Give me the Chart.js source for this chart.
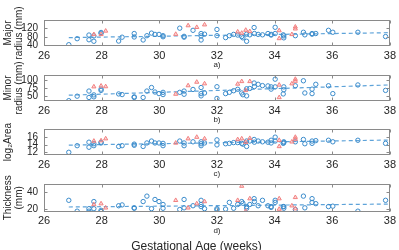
<!DOCTYPE html>
<html><head><meta charset="utf-8">
<script src="https://cdn.jsdelivr.net/npm/chart.js@4/dist/chart.umd.min.js"></script>
<style>
html,body{margin:0;padding:0;background:#fff;}
#wrap{position:relative;width:399px;height:250px;overflow:hidden;background:#fff;}
.p{position:absolute;left:0;width:399px;}
</style></head><body>
<div id="wrap"></div>
<script>
// ---- data ----
const xTicks=[26,28,30,32,34,36,38];
const blueAge=[26.86,27.15,27.56,27.56,27.73,27.73,27.98,27.98,28.59,28.71,29.13,29.13,29.44,29.57,29.73,29.85,29.99,30.13,30.13,30.71,30.86,30.86,31.17,31.45,31.45,31.45,31.57,32.0,32.0,32.3,32.43,32.58,32.72,32.86,32.9,33.03,33.03,33.14,33.29,33.3,33.43,33.58,33.77,33.88,33.88,34.02,34.02,34.3,34.32,34.32,34.72,35.0,35.05,35.3,35.3,35.43,35.87,36.02,36.89,37.85];
const redAge=[27.73,27.98,28.14,30.57,31.0,31.3,31.57,32.72,32.86,33.0,33.14,34.16,34.16,34.6,34.72,34.72];
const trendAge=[26.86,38];

const majorBlue=[43,71,88,66,84,59,100,96,60,78,95,79,65,85,97,91,91,85,80,120,78,82,110,95,84,65,92,114,85,76,85,91,88,81,75,59,92,89,123,95,91,89,95,91,88,124,95,89,75,84,85,101,89,95,92,95,110,101,101,81];
const majorRed=[91,91,107,92,132,124,136,103,97,111,105,109,72,91,126,117];
const majorTrend=[76,99];
const majorTicks=[40,80,120];

const minorBlue=[36,50,66,46,54,48,68,72,57,55,46,48,46,66,77,63,58,62,55,62,66,56,71,77,58,51,60,79.5,43,58,62,67,71.5,60,54.5,51,73,74,91,80,87,83,82,79,72,103,79,57,79,70,82.5,98,60,72,58,87,82.5,58,85,68];
const minorRed=[79.5,82,80,56.6,83,94,89,88,96,68,96,85,46,89,103,97];
const minorTrend=[53,85];
const minorTicks=[50,75,100];

const areaBlue=[12.0,13.7,14.6,13.3,14.2,13.7,14.4,14.6,13.5,13.7,14.1,13.8,13.5,14.4,14.9,14.4,14.4,14.3,13.7,14.9,14.4,13.7,14.7,14.7,14.2,13.7,14.4,15.2,13.9,14.2,14.3,14.5,14.5,14.3,14.1,13.5,14.9,14.9,15.3,14.6,14.9,14.7,14.6,15.1,14.4,15.9,14.9,14.3,14.7,14.5,14.7,15.3,14.2,14.9,14.3,15.0,15.1,14.7,15.1,14.3];
const areaRed=[14.9,15.0,15.5,14.4,15.5,15.9,15.5,15.3,15.5,14.6,15.6,15.1,13.5,14.7,15.9,15.4];
const areaTrend=[13.85,15.15];
const areaTicks=[12,14,16];

const thickBlue=[30.5,17.5,20.5,17.5,29,20.5,18.5,17,24,25,21.5,21,29,35.5,20.5,31.5,29,25.5,21,19.5,31.5,21.5,24,30.5,25.5,23,20.5,19,20.5,20,28,21,25.5,29,27,21,23,25.5,32.5,29,24,30.5,24,23,22,30.5,28,23,23,21,19.5,35.5,21.5,32.5,28,26.5,23,23.5,17.5,30.5];
const thickRed=[25.5,26.5,21.5,30.5,21.5,26.5,29,30.5,47.5,17.5,32.5,32.5,20,24,34,20.5];
const thickTrend=[22.5,26];
const thickTicks=[20,40];

// ---- style ----
const FONT="'Liberation Sans', Arial, Helvetica, sans-serif";
const BLUE='#3a8bcb', RED='#f28080', REDFILL='rgba(242,128,128,0.3)', TREND='#5ea3d9';
const TXT='#262626', BOX='#8a8a8a';
const PAD_TOP=30, X_AXIS_H=24, XLABEL_H=22;

const boxPlugin={id:'box',afterDraw(chart){
  const {ctx,chartArea:a,scales}=chart;
  ctx.save();
  ctx.strokeStyle=BOX;ctx.lineWidth=1;
  const L=Math.round(a.left)+0.5,R=Math.round(a.right)-0.5,T=Math.round(a.top)+0.5,B=Math.round(a.bottom)-0.5;
  ctx.strokeRect(L,T,R-L,B-T);
  ctx.beginPath();
  scales.y.ticks.forEach(t=>{const y=Math.round(scales.y.getPixelForValue(t.value))+0.5;ctx.moveTo(L,y);ctx.lineTo(L+3,y);ctx.moveTo(R,y);ctx.lineTo(R-3,y);});
  scales.x.ticks.forEach(t=>{const x=Math.round(scales.x.getPixelForValue(t.value))+0.5;ctx.moveTo(x,B);ctx.lineTo(x,B-3);ctx.moveTo(x,T);ctx.lineTo(x,T+3);});
  ctx.stroke();
  ctx.restore();
}};

function makePanel(cfg){
  const wrap=document.getElementById('wrap');
  const div=document.createElement('div');
  div.className='p';
  const h=PAD_TOP+cfg.areaH+X_AXIS_H+(cfg.xlabel?XLABEL_H:0);
  div.style.top=(cfg.areaTop-PAD_TOP)+'px';
  div.style.height=h+'px';
  const cv=document.createElement('canvas');
  div.appendChild(cv);wrap.appendChild(div);
  new Chart(cv,{
    type:'scatter',
    data:{datasets:[
      {data:redAge.map((a,i)=>({x:a,y:cfg.red[i]})),pointStyle:'triangle',pointRadius:2.4,borderColor:RED,backgroundColor:REDFILL,borderWidth:1},
      {data:blueAge.map((a,i)=>({x:a,y:cfg.blue[i]})),pointStyle:'circle',pointRadius:2.2,borderColor:BLUE,backgroundColor:'rgba(0,0,0,0)',borderWidth:1},
      {data:trendAge.map((a,i)=>({x:a,y:cfg.trend[i]})),showLine:true,borderColor:TREND,borderDash:[4,3],borderWidth:1.2,pointRadius:0}
    ]},
    options:{
      responsive:true,maintainAspectRatio:false,animation:false,devicePixelRatio:1,
      layout:{padding:{top:PAD_TOP,right:6,left:0,bottom:0}},
      plugins:{legend:{display:false},tooltip:{enabled:false},
        title:cfg.xlabel?{display:true,position:'bottom',text:cfg.xlabel,color:TXT,font:{family:FONT,size:12,weight:'normal'},padding:{top:4,bottom:2}}:{display:false}},
      scales:{
        x:{type:'linear',min:26,max:38,
          grid:{display:false,drawTicks:false},border:{display:false},
          afterBuildTicks(s){s.ticks=xTicks.map(v=>({value:v}));},
          afterFit(s){s.height=X_AXIS_H;},
          ticks:{font:{family:FONT,size:11},color:TXT,padding:3,maxRotation:0,autoSkip:false},
          title:{display:true,text:cfg.label,color:TXT,font:{family:FONT,size:8},padding:{top:0,bottom:0}}},
        y:{type:'linear',min:cfg.yMin,max:cfg.yMax,
          grid:{display:false,drawTicks:false},border:{display:false},
          afterBuildTicks(s){s.ticks=cfg.yTicks.map(v=>({value:v}));},
          afterFit(s){s.width=44;},
          ticks:{font:{family:FONT,size:10},color:TXT,padding:6,autoSkip:false},
          title:{display:true,text:cfg.title,color:TXT,font:{family:FONT,size:10,lineHeight:1.1},padding:{top:3,bottom:0}}}
      }
    },
    plugins:[boxPlugin]
  });
}

makePanel({areaTop:20,areaH:26,yMin:37,yMax:158,yTicks:majorTicks,title:['Major','radius (mm)'],label:'a)',blue:majorBlue,red:majorRed,trend:majorTrend});
makePanel({areaTop:75,areaH:26,yMin:35,yMax:116,yTicks:minorTicks,title:['Minor','radius (mm)'],label:'b)',blue:minorBlue,red:minorRed,trend:minorTrend});
makePanel({areaTop:129,areaH:26,yMin:11.3,yMax:18,yTicks:areaTicks,title:['log₂Area'],label:'c)',blue:areaBlue,red:areaRed,trend:areaTrend});
makePanel({areaTop:184,areaH:26,yMin:17,yMax:50,yTicks:thickTicks,title:['Thickness','(mm)'],label:'d)',blue:thickBlue,red:thickRed,trend:thickTrend,xlabel:'Gestational Age (weeks)'});
</script>
</body></html>
